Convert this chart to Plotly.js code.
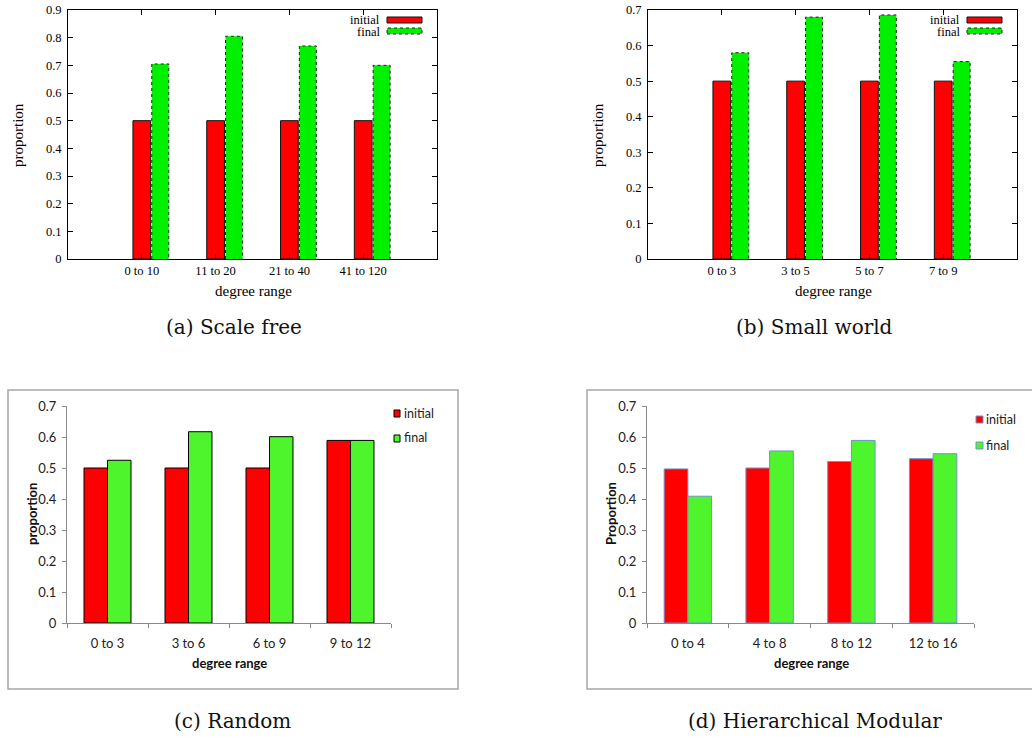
<!DOCTYPE html>
<html>
<head>
<meta charset="utf-8">
<script src="https://cdn.plot.ly/plotly-3.0.1.min.js"></script>
<style>
  html, body { margin: 0; padding: 0; background: #ffffff; }
  #chart { width: 1032px; height: 737px; }
</style>
</head>
<body>
<div id="chart"></div>
<script>
// ---- data ----
const catsA = ['0 to 10', '11 to 20', '21 to 40', '41 to 120'];
const initialA = [0.5, 0.5, 0.5, 0.5];
const finalA = [0.705, 0.805, 0.77, 0.70];

const catsB = ['0 to 3', '3 to 5', '5 to 7', '7 to 9'];
const initialB = [0.5, 0.5, 0.5, 0.5];
const finalB = [0.58, 0.68, 0.686, 0.555];

const catsC = ['0 to 3', '3 to 6', '6 to 9', '9 to 12'];
const initialC = [0.5, 0.5, 0.5, 0.589];
const finalC = [0.525, 0.617, 0.601, 0.589];

const catsD = ['0 to 4', '4 to 8', '8 to 12', '12 to 16'];
const initialD = [0.497, 0.5, 0.521, 0.53];
const finalD = [0.409, 0.555, 0.589, 0.546];

const seriesNames = ['initial', 'final'];
const captions = ['(a) Scale free', '(b) Small world', '(c) Random', '(d) Hierarchical Modular'];

// ---- page geometry helpers (pixel -> paper fraction) ----
const W = 1032, H = 737;
const px = v => v / W;
const py = v => 1 - v / H;

// ---- styles ----
const SERIF = '"Liberation Serif", "Times New Roman", serif';
const CAPTION = '"DejaVu Serif", serif';
const SANS = 'Lato, "Open Sans", sans-serif';
const GP_RED = '#ff0000', GP_GREEN = '#00f000';
const XL_RED = '#ff0000', XL_GREEN = '#4ef52c';

// gnuplot-style bar geometry (in category units)
const gpRed = { off: -0.12, w: 0.24 };
const gpGreen = { off: 0.135, w: 0.23 };

const traces = [];

function gnuplotPanel(cats, init, fin, xa, ya) {
  const idx = cats.map((_, i) => i);
  traces.push({
    type: 'bar', name: seriesNames[0], x: idx, y: init, xaxis: xa, yaxis: ya,
    width: gpRed.w, offset: gpRed.off,
    marker: { color: GP_RED, line: { color: '#111', width: 1 } },
    hoverinfo: 'skip'
  });
  traces.push({
    type: 'bar', name: seriesNames[1], x: idx, y: fin, xaxis: xa, yaxis: ya,
    width: gpGreen.w, offset: gpGreen.off,
    marker: { color: GP_GREEN, line: { width: 0 } },
    hoverinfo: 'skip'
  });
  // dashed outline of the "final" bars, traced from the same values
  const ox = [], oy = [];
  fin.forEach((v, i) => {
    const l = i + gpGreen.off, r = l + gpGreen.w;
    ox.push(l, l, r, r, null);
    oy.push(0, v, v, 0, null);
  });
  traces.push({
    type: 'scatter', mode: 'lines', x: ox, y: oy, xaxis: xa, yaxis: ya,
    line: { color: '#222', width: 1, dash: 'dot' }, hoverinfo: 'skip'
  });
}

function excelPanel(cats, init, fin, xa, ya, edge) {
  const bw = 0.29;
  traces.push({
    type: 'bar', name: seriesNames[0], x: cats, y: init, xaxis: xa, yaxis: ya,
    width: bw, offset: -bw,
    marker: { color: XL_RED, line: { color: edge, width: 1 } }, hoverinfo: 'skip'
  });
  traces.push({
    type: 'bar', name: seriesNames[1], x: cats, y: fin, xaxis: xa, yaxis: ya,
    width: bw, offset: 0,
    marker: { color: XL_GREEN, line: { color: edge, width: 1 } }, hoverinfo: 'skip'
  });
}

gnuplotPanel(catsA, initialA, finalA, 'x', 'y');
gnuplotPanel(catsB, initialB, finalB, 'x2', 'y2');
excelPanel(catsC, initialC, finalC, 'x3', 'y3', '#000000');
excelPanel(catsD, initialD, finalD, 'x4', 'y4', '#7192c8');

// ---- axes ----
function gpX(domain, cats, anchor) {
  return {
    domain, anchor, range: [-1, 4],
    tickmode: 'array', tickvals: cats.map((_, i) => i), ticktext: cats,
    ticks: 'inside', ticklen: 5, tickcolor: '#000', tickwidth: 1,
    showline: true, mirror: 'ticks', linecolor: '#000', linewidth: 1,
    showgrid: false, zeroline: false, fixedrange: true,
    tickfont: { family: SERIF, size: 12.5, color: '#000' }
  };
}
function gpY(domain, maxv, anchor) {
  return {
    domain, anchor, range: [0, maxv], tick0: 0, dtick: 0.1,
    ticks: 'inside', ticklen: 5, tickcolor: '#000', tickwidth: 1,
    showline: true, mirror: 'ticks', linecolor: '#000', linewidth: 1,
    showgrid: false, zeroline: false, fixedrange: true, ticklabelstandoff: 3,
    tickfont: { family: SERIF, size: 12.5, color: '#000' }
  };
}
function xlX(domain, cats, anchor) {
  return {
    domain, anchor, type: 'category', categoryarray: cats, range: [-0.5, 3.5],
    tickson: 'boundaries', ticks: 'outside', ticklen: 4, tickcolor: '#8a8a8a',
    showline: true, linecolor: '#8a8a8a', linewidth: 1,
    showgrid: false, zeroline: false, fixedrange: true, ticklabelstandoff: 8,
    tickfont: { family: SANS, size: 13, color: '#222' }
  };
}
function xlY(domain, anchor) {
  return {
    domain, anchor, range: [0, 0.7], tick0: 0, dtick: 0.1,
    ticks: 'outside', ticklen: 4, tickcolor: '#8a8a8a',
    showline: true, linecolor: '#8a8a8a', linewidth: 1,
    showgrid: false, zeroline: false, fixedrange: true, ticklabelstandoff: 3,
    tickfont: { family: SANS, size: 13, color: '#222' }
  };
}

const topRow = [py(259), py(10)];
const botRow = [py(623), py(406)];

// ---- text ----
const annotations = [];
function txt(x, y, text, font, opts) {
  annotations.push(Object.assign({
    xref: 'paper', yref: 'paper', x: px(x), y: py(y), text, showarrow: false,
    font, xanchor: 'center', yanchor: 'middle'
  }, opts || {}));
}
const gpLabel = { family: SERIF, size: 15, color: '#000' };
const xlLabel = { family: SANS, size: 13, color: '#111', weight: 'bold' };
const capFont = { family: CAPTION, size: 20, color: '#111' };

// axis titles
txt(253, 291, 'degree range', gpLabel);
txt(18, 135, 'proportion', gpLabel, { textangle: -90 });
txt(833, 291, 'degree range', gpLabel);
txt(598, 135, 'proportion', gpLabel, { textangle: -90 });
txt(229, 663, '<b>degree range</b>', xlLabel);
txt(32, 514, '<b>proportion</b>', xlLabel, { textangle: -90 });
txt(811, 663, '<b>degree range</b>', xlLabel);
txt(611, 514, '<b>Proportion</b>', xlLabel, { textangle: -90 });

// captions
txt(234, 327, captions[0], capFont);
txt(814, 327, captions[1], capFont);
txt(232, 721, captions[2], capFont);
txt(815, 721, captions[3], capFont);

// legends
const shapes = [];
function box(x0, y0, x1, y1, fill, line) {
  shapes.push({
    type: 'rect', xref: 'paper', yref: 'paper',
    x0: px(x0), x1: px(x1), y0: py(y1), y1: py(y0),
    fillcolor: fill, line
  });
}
const gpLegFont = { family: SERIF, size: 12.5, color: '#000' };
const tight = { xanchor: 'right', borderpad: 0, height: 11 };
[[381, 387], [961, 967]].forEach(([tx, bx]) => {
  txt(tx, 19.5, seriesNames[0], gpLegFont, tight);
  txt(tx, 31, seriesNames[1], gpLegFont, tight);
  box(bx, 17, bx + 35, 23, GP_RED, { color: '#111', width: 1 });
  box(bx, 28, bx + 35, 34, GP_GREEN, { color: '#222', width: 1, dash: 'dot' });
});

const xlLegFont = { family: SANS, size: 12.5, color: '#222' };
txt(402, 413, seriesNames[0], xlLegFont, { xanchor: 'left' });
txt(402, 438, seriesNames[1], xlLegFont, { xanchor: 'left' });
box(394, 410, 400, 417, XL_RED, { color: '#000', width: 1 });
box(394, 435, 400, 442, XL_GREEN, { color: '#000', width: 1 });

txt(984, 419, seriesNames[0], xlLegFont, { xanchor: 'left' });
txt(984, 445, seriesNames[1], xlLegFont, { xanchor: 'left' });
box(976, 416, 983, 423, XL_RED, { color: '#7192c8', width: 1 });
box(976, 442, 983, 449, XL_GREEN, { color: '#7192c8', width: 1 });

// chart frames around the lower two panels
box(8, 390, 458, 689, 'rgba(0,0,0,0)', { color: '#a6a6a6', width: 1.5 });
box(587, 390, 1045, 689, 'rgba(0,0,0,0)', { color: '#a6a6a6', width: 1.5 });

const layout = {
  width: W, height: H,
  margin: { l: 0, r: 0, t: 0, b: 0, pad: 0 },
  paper_bgcolor: '#ffffff', plot_bgcolor: 'rgba(0,0,0,0)',
  showlegend: false, barmode: 'overlay',
  xaxis: gpX([px(68), px(437)], catsA, 'y'),
  yaxis: gpY(topRow, 0.9, 'x'),
  xaxis2: gpX([px(648), px(1017)], catsB, 'y2'),
  yaxis2: gpY(topRow, 0.7, 'x2'),
  xaxis3: xlX([px(67), px(391)], catsC, 'y3'),
  yaxis3: xlY(botRow, 'x3'),
  xaxis4: xlX([px(647), px(974)], catsD, 'y4'),
  yaxis4: xlY(botRow, 'x4'),
  annotations, shapes
};

Plotly.newPlot('chart', traces, layout, { staticPlot: true, displayModeBar: false });
</script>
</body>
</html>
